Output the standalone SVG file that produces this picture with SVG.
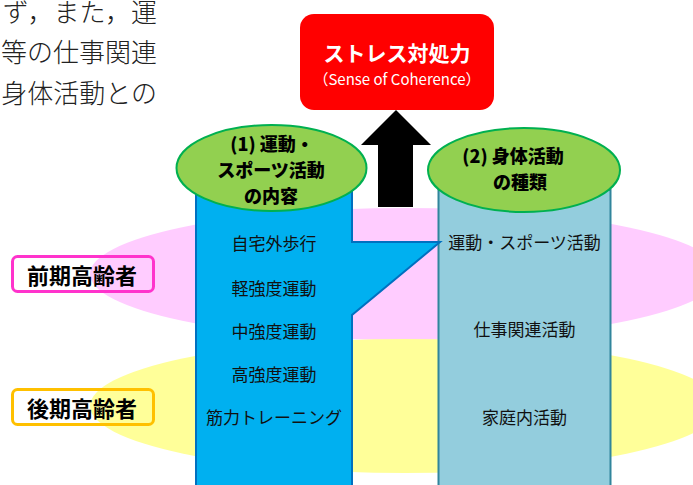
<svg xmlns="http://www.w3.org/2000/svg" width="693" height="485" viewBox="0 0 693 485">
<style>
text{font-family:"Noto Sans CJK JP","Noto Sans",sans-serif;dominant-baseline:central;text-anchor:middle}
.body{font-size:26px;font-weight:300;fill:#222;text-anchor:end}
.item{font-size:17px;fill:#111}
.head{font-size:18px;font-weight:900;fill:#000}
.lab{font-size:22px;font-weight:700;fill:#000}
.green{fill:#92D050;stroke:#00B050;stroke-width:2}
.lbox{fill:none;stroke-width:3}
</style>
<g id="bodytext">
<text class="body" x="157" y="10">ず，また，運</text>
<text class="body" x="157" y="50">等の仕事関連</text>
<text class="body" x="157" y="91.5">身体活動との</text>
</g>
<g id="bands">
<ellipse id="band-early" cx="405" cy="274" rx="315" ry="66" fill="#FFCCFF"/>
<ellipse id="band-late" cx="405" cy="406" rx="315" ry="67" fill="#FFFF99"/>
</g>
<g id="col2">
<rect x="438.5" y="190" width="172" height="300" fill="#93CDDD" stroke="#31859C" stroke-width="2"/>
<text class="item" x="524.5" y="241">運動・スポーツ活動</text>
<text class="item" x="524.5" y="328">仕事関連活動</text>
<text class="item" x="524.5" y="416">家庭内活動</text>
</g>
<g id="col1">
<path d="M196,190 H352 V242 H440 L352,315 V492 H196 Z" fill="#00B0F0" stroke="#0070C0" stroke-width="2" stroke-linejoin="miter"/>
<text class="item" x="274" y="242.5">自宅外歩行</text>
<text class="item" x="274" y="287">軽強度運動</text>
<text class="item" x="274" y="330">中強度運動</text>
<text class="item" x="274" y="373">高強度運動</text>
<text class="item" x="274" y="416">筋力トレーニング</text>
</g>
<g id="head1">
<ellipse class="green" cx="271.5" cy="168" rx="95" ry="43"/>
<text class="head" x="272" y="143">(1) 運動・</text>
<text class="head" x="271" y="169">スポーツ活動</text>
<text class="head" x="271" y="195">の内容</text>
</g>
<g id="head2">
<ellipse class="green" cx="524" cy="170" rx="96" ry="42"/>
<text class="head" x="513" y="155">(2) 身体活動</text>
<text class="head" x="520" y="181">の種類</text>
</g>
<g id="connectors">
<polygon points="396,110 431,145 413,145 413,207 378,207 378,145 361,145" fill="#000"/>
</g>
<g id="soc">
<rect x="300" y="14" width="194" height="96" rx="14" fill="#FF0000"/>
<text x="397" y="52" style="font-size:21px;font-weight:700;fill:#fff">ストレス対処力</text>
<text x="397" y="78" style="font-size:15px;fill:#fff">（Sense of Coherence）</text>
</g>
<g id="label-early">
<rect class="lbox" x="12.5" y="256.5" width="141" height="35" rx="5" stroke="#FF33CC"/>
<text class="lab" x="82" y="274">前期高齢者</text>
</g>
<g id="label-late">
<rect class="lbox" x="12.5" y="389.5" width="141" height="35" rx="5" stroke="#FFC000"/>
<text class="lab" x="82" y="407">後期高齢者</text>
</g>
</svg>
